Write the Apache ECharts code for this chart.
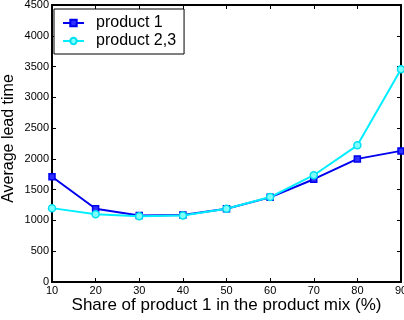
<!DOCTYPE html>
<html><head><meta charset="utf-8">
<script src="https://cdn.jsdelivr.net/npm/echarts@6/dist/echarts.min.js"></script>
<style>html,body{margin:0;padding:0;background:#fff}#c{width:404px;height:320px}</style>
</head><body><div id="c"></div>
<script>
var shares = [10, 20, 30, 40, 50, 60, 70, 80, 90];
var product1 = [1710, 1190, 1080, 1090, 1190, 1375, 1670, 2000, 2130];
var product23 = [1200, 1100, 1070, 1080, 1190, 1380, 1735, 2220, 3455];
var yTicks = [0, 500, 1000, 1500, 2000, 2500, 3000, 3500, 4000, 4500];

var chart = echarts.init(document.getElementById('c'));
var font = 'Liberation Sans, Arial, sans-serif';
function pairs(v){ return shares.map(function(s,i){ return [s, v[i]]; }); }
chart.setOption({
  animation: false,
  textStyle: {fontFamily: font},
  grid: {left: 52, right: 3, top: 5, bottom: 38, show: false, outerBoundsMode: 'none', containLabel: false},
  legend: {
    left: 54, top: 9, orient: 'vertical', itemGap: 2,
    itemWidth: 21, itemHeight: 8,
    backgroundColor: '#fff', borderColor: '#000', borderWidth: 1,
    padding: [6, 8, 5, 8],
    textStyle: {fontSize: 16, color: '#000', fontFamily: font, padding: [0, 0, 0, 7]},
    data: ['product 1', 'product 2,3']
  },
  xAxis: [{
    type: 'value', min: 10, max: 90, interval: 10,
    name: 'Share of product 1 in the product mix (%)',
    nameLocation: 'middle', nameGap: 15, nameMoveOverlap: false,
    nameTextStyle: {fontSize: 17, color: '#000', fontFamily: font},
    axisLine: {show: true, lineStyle: {color: '#000', width: 2}},
    axisTick: {show: true, inside: true, length: 4, lineStyle: {color: '#000', width: 1}},
    axisLabel: {fontSize: 11, color: '#000', margin: 3, fontFamily: font},
    splitLine: {show: false}
  }, {
    type: 'value', min: 10, max: 90, interval: 10, position: 'top',
    axisLine: {show: true, onZero: false, lineStyle: {color: '#000', width: 2}},
    axisTick: {show: true, inside: true, length: 4, lineStyle: {color: '#000', width: 1}},
    axisLabel: {show: false}, splitLine: {show: false}
  }],
  yAxis: [{
    type: 'value', min: 0, max: 4500, interval: 500,
    name: 'Average lead time', nameLocation: 'middle', nameGap: 35, nameMoveOverlap: false,
    nameTextStyle: {fontSize: 16, color: '#000', fontFamily: font, padding: [0, 0, 0, 10]},
    axisLine: {show: true, lineStyle: {color: '#000', width: 2}},
    axisTick: {show: true, inside: true, length: 4, lineStyle: {color: '#000', width: 1}},
    axisLabel: {fontSize: 11, color: '#000', margin: 3, fontFamily: font,
      formatter: function(v){ return yTicks.indexOf(v) >= 0 ? String(v) : ''; }},
    splitLine: {show: false}
  }, {
    type: 'value', min: 0, max: 4500, interval: 500, position: 'right',
    axisLine: {show: true, onZero: false, lineStyle: {color: '#000', width: 2}},
    axisTick: {show: true, inside: true, length: 4, lineStyle: {color: '#000', width: 1}},
    axisLabel: {show: false}, splitLine: {show: false}
  }],
  series: [{
    name: 'product 1', type: 'line', data: pairs(product1),
    symbol: 'rect', symbolSize: 6, showAllSymbol: true,
    lineStyle: {color: '#0000ee', width: 2},
    itemStyle: {color: '#3030ff', borderColor: '#0000ee', borderWidth: 1.5}
  }, {
    name: 'product 2,3', type: 'line', data: pairs(product23),
    symbol: 'circle', symbolSize: 7, showAllSymbol: true,
    lineStyle: {color: '#00eeff', width: 2},
    itemStyle: {color: '#80ffff', borderColor: '#00e0f0', borderWidth: 1.5}
  }]
});
</script></body></html>
